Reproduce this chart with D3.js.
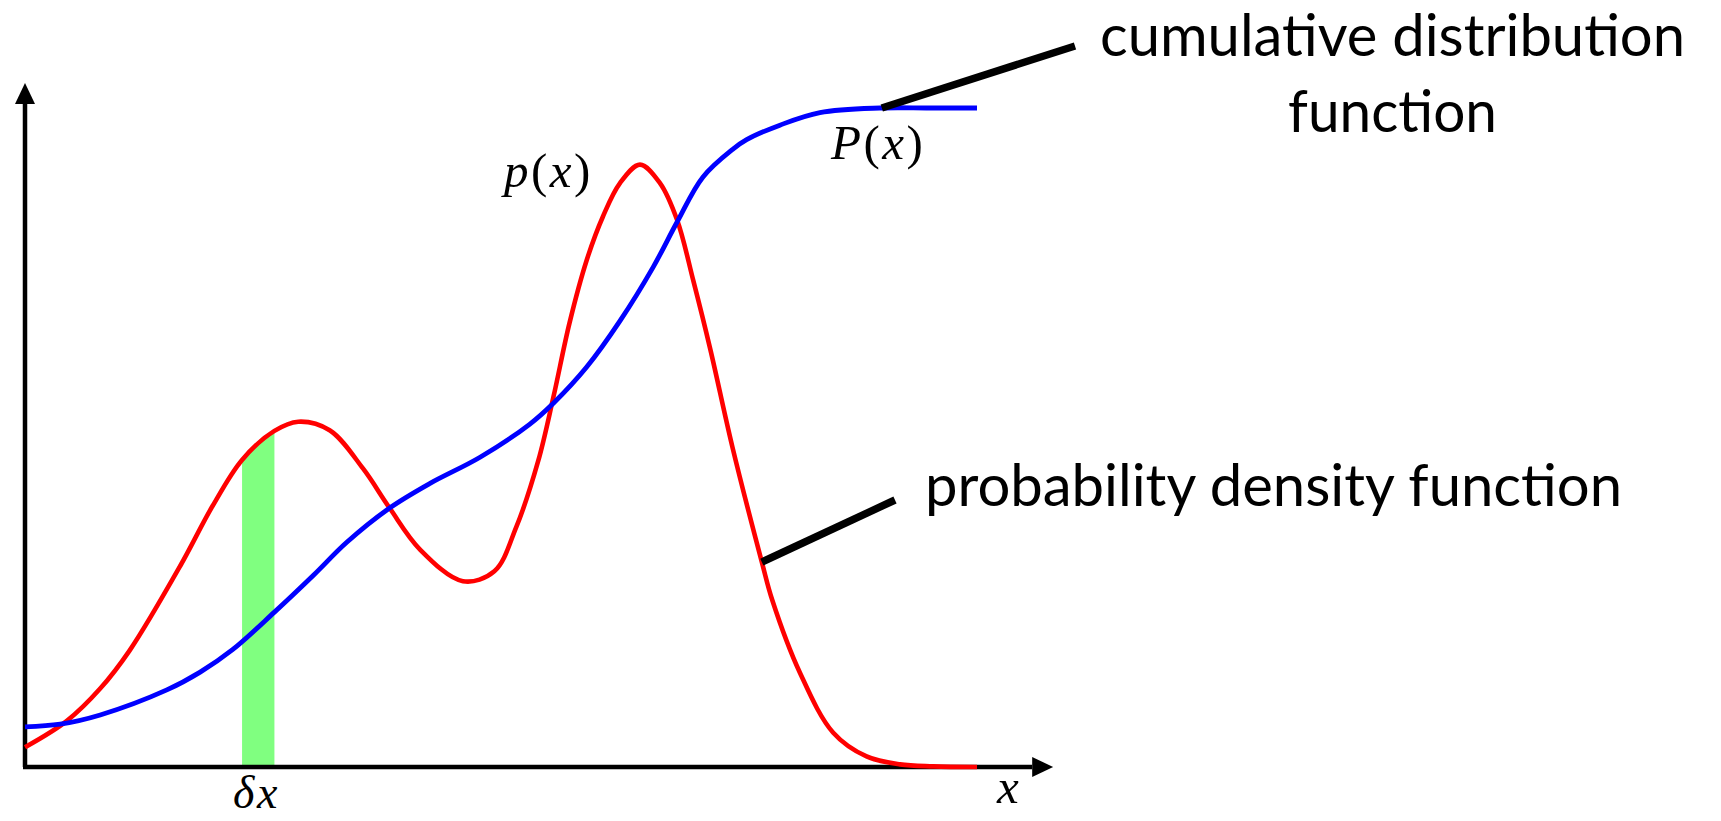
<!DOCTYPE html>
<html>
<head>
<meta charset="utf-8">
<script src="https://cdn.jsdelivr.net/npm/d3@7"></script>
<style>
  body { margin: 0; background: #fff; }
  .label { font-family: "Lato", sans-serif; font-size: 58px; fill: #000; }
  .math { font-family: "Liberation Serif", serif; font-size: 49px; fill: #000; letter-spacing: 2.5px; }
</style>
</head>
<body>
<div id="vis-container"></div>
<script>
let width = 1721;
let height = 821;

// probability density p(x)
let pdf_x = [0, 0.44, 0.79, 1.10, 1.63, 1.97, 2.28, 2.62, 2.87, 3.20, 3.55, 3.83, 4.15, 4.60, 4.93,
             5.16, 5.39, 5.55, 5.72, 5.90, 6.07, 6.25, 6.46, 6.67, 6.85, 7.02, 7.20, 7.43, 7.74,
             7.85, 8.14, 8.49, 8.84, 9.19, 9.54, 10];
let pdf_y = [0.030, 0.070, 0.119, 0.177, 0.305, 0.396, 0.466, 0.510, 0.524, 0.511, 0.453, 0.393, 0.330,
             0.282, 0.297, 0.364, 0.464, 0.561, 0.674, 0.769, 0.835, 0.886, 0.914, 0.886, 0.830,
             0.738, 0.633, 0.486, 0.311, 0.253, 0.143, 0.052, 0.016, 0.004, 0.001, 0];

// cumulative distribution P(x)
let cdf_x = [0, 0.37, 0.79, 1.49, 1.84, 2.18, 2.62, 3.03, 3.38, 3.83, 4.25, 4.78, 5.30, 5.55, 5.90,
             6.25, 6.60, 6.85, 7.12, 7.44, 7.58, 7.93, 8.35, 8.98, 9.50, 10];
let cdf_y = [0.061, 0.065, 0.079, 0.117, 0.144, 0.178, 0.235, 0.291, 0.341, 0.393, 0.430, 0.470, 0.520,
             0.552, 0.607, 0.677, 0.759, 0.827, 0.895, 0.938, 0.952, 0.974, 0.993, 1.0, 1.0, 1.0];

// the little slice delta x
let band = [2.28, 2.62];

let pdf = pdf_x.map((d, i) => [d, pdf_y[i]]);
let cdf = cdf_x.map((d, i) => [d, cdf_y[i]]);

let svg = d3.select("#vis-container").append("svg")
    .attr("width", width)
    .attr("height", height);

let x = d3.scaleLinear().domain([0, 10]).range([25, 977]);
let y = d3.scaleLinear().domain([0, 1]).range([767, 108]);

let line = d3.line()
    .x(d => x(d[0]))
    .y(d => y(d[1]))
    .curve(d3.curveCatmullRom.alpha(0.5));

let area = d3.area()
    .x(d => x(d[0]))
    .y0(y(0))
    .y1(d => y(d[1]))
    .curve(d3.curveCatmullRom.alpha(0.5));

// green strip under the pdf
svg.append("clipPath")
    .attr("id", "band-clip")
  .append("rect")
    .attr("x", x(band[0]))
    .attr("y", 0)
    .attr("width", x(band[1]) - x(band[0]))
    .attr("height", height);

svg.append("path")
    .datum(pdf)
    .attr("d", area)
    .attr("clip-path", "url(#band-clip)")
    .attr("fill", "#80ff80");

// axes with arrow heads
let x_end = 10.8, y_end = 1.038, head = 21;

svg.append("line")
    .attr("x1", x(0)).attr("y1", y(0))
    .attr("x2", x(0)).attr("y2", y(y_end) + head)
    .attr("stroke", "#000").attr("stroke-width", 4.5);
svg.append("line")
    .attr("x1", x(0) - 2).attr("y1", y(0))
    .attr("x2", x(x_end) - head).attr("y2", y(0))
    .attr("stroke", "#000").attr("stroke-width", 4.5);

svg.append("path")
    .attr("d", `M${x(0)},${y(y_end)} L${x(0) - 10},${y(y_end) + head} L${x(0) + 10},${y(y_end) + head} Z`)
    .attr("fill", "#000");
svg.append("path")
    .attr("d", `M${x(x_end)},${y(0)} L${x(x_end) - head},${y(0) - 10} L${x(x_end) - head},${y(0) + 10} Z`)
    .attr("fill", "#000");

// curves
svg.append("path")
    .datum(pdf)
    .attr("d", line)
    .attr("fill", "none")
    .attr("stroke", "#ff0000")
    .attr("stroke-width", 4.6);

svg.append("path")
    .datum(cdf)
    .attr("d", line)
    .attr("fill", "none")
    .attr("stroke", "#0000ff")
    .attr("stroke-width", 4.8);

// pointer lines to the labels
svg.append("line")
    .attr("x1", x(9.0)).attr("y1", y(1.0))
    .attr("x2", 1075).attr("y2", 46)
    .attr("stroke", "#000").attr("stroke-width", 7.5);
svg.append("line")
    .attr("x1", x(7.74)).attr("y1", y(0.311))
    .attr("x2", 895).attr("y2", 500)
    .attr("stroke", "#000").attr("stroke-width", 7.5);

// math labels
function math(xp, yp, parts, size) {
  let t = svg.append("text").attr("class", "math").attr("x", xp).attr("y", yp);
  if (size) t.style("font-size", size + "px");
  parts.forEach(p => {
    t.append("tspan")
      .attr("font-style", p[1] ? "italic" : "normal")
      .text(p[0]);
  });
}
math(504, 187, [["p", 1], ["(", 0], ["x", 1], [")", 0]]);
math(831, 159, [["P", 1], ["(", 0], ["x", 1], [")", 0]]);
math(233, 808, [["δ", 1], ["x", 1]], 46);
math(997, 803, [["x", 1]]);

// text labels
svg.append("text").attr("class", "label")
    .attr("x", 1100).attr("y", 56)
    .attr("textLength", 585).attr("lengthAdjust", "spacingAndGlyphs")
    .text("cumulative distribution");
svg.append("text").attr("class", "label")
    .attr("x", 1288).attr("y", 132)
    .attr("textLength", 209).attr("lengthAdjust", "spacingAndGlyphs")
    .text("function");
svg.append("text").attr("class", "label")
    .attr("x", 925).attr("y", 506)
    .attr("textLength", 697).attr("lengthAdjust", "spacingAndGlyphs")
    .text("probability density function");
</script>
</body>
</html>
